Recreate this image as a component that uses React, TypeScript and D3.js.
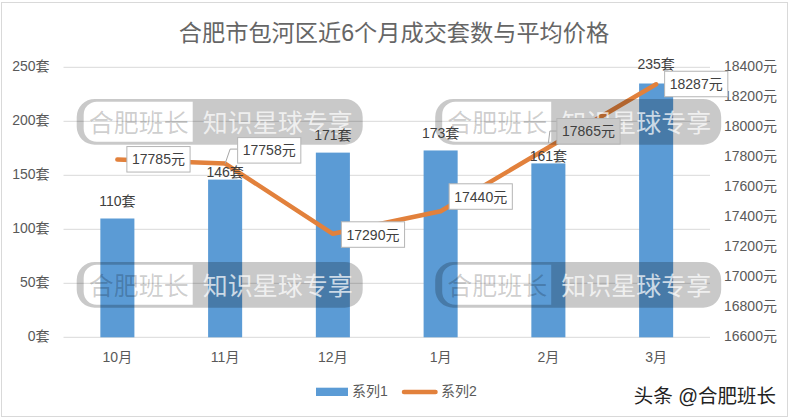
import React from "react";
import * as d3 from "d3";

const months = ["10月", "11月", "12月", "1月", "2月", "3月"];
const deals = [110, 146, 171, 173, 161, 235];
const prices = [17785, 17758, 17290, 17440, 17865, 18287];
const leftTicks = [0, 50, 100, 150, 200, 250];
const rightTicks = [16600, 16800, 17000, 17200, 17400, 17600, 17800, 18000, 18200, 18400];
const seriesNames = ["系列1", "系列2"];
const title = "合肥市包河区近6个月成交套数与平均价格";
const markLeft = "合肥班长";
const markRight = "知识星球专享";
const credit = "头条 @合肥班长";

const W = 789, H = 419;
const plot = { left: 63.5, right: 710, top: 67.3, bottom: 337.3 };
const FONT = "'Liberation Sans','Noto Sans CJK SC',sans-serif";
const GRID = "#d9d9d9";
const AXIS_TEXT = "#595959";
const DATA_TEXT = "#404040";
const BAR = "#5b9bd5";
const LINE = "#e2813c";
const LABEL_SIZE = 14;

// label layout, relative to each data point
const barLabelLift = [18, 7.5, 18, 18, 7.5, 19.5];
const boxOffset: [number, number][] = [
  [9.5, -13], [12.5, -26], [8.5, -12], [8.5, -27.5], [8.5, -29], [8.5, -13],
];
const boxFill = ["#fff", "#fff", "#fff", "#fff", "#c9c9c9", "#fff"];
const BOX_W = 63.2, BOX_H = 25.5;
const leaders: Record<number, [number, number][]> = {
  1: [[0, 0], [5, -14.5], [12.5, -14.5]],
  4: [[0, -4.5], [1.5, -16.5], [8.5, -16.5]],
};
const marks: [number, number][] = [[76.7, 99], [435.2, 99], [76.7, 262], [435.2, 262]];

function Watermark({ x, y }: { x: number; y: number }) {
  const w = 286, h = 45.7, r = 18;
  const iL = 7, iR = 116, iT = 2.7, iB = 42.7, ir = 13;
  const outer = `M${x + r},${y}H${x + w - r}A${r},${r} 0 0 1 ${x + w},${y + r}V${y + h - r}A${r},${r} 0 0 1 ${x + w - r},${y + h}H${x + r}A${r},${r} 0 0 1 ${x},${y + h - r}V${y + r}A${r},${r} 0 0 1 ${x + r},${y}Z`;
  const inner = `M${x + iL + ir},${y + iT}H${x + iR}V${y + iB}H${x + iL + ir}A${ir},${ir} 0 0 1 ${x + iL},${y + iB - ir}V${y + iT + ir}A${ir},${ir} 0 0 1 ${x + iL + ir},${y + iT}Z`;
  return (
    <g style={{ fontFamily: FONT, fontSize: 25 }}>
      <path d={outer + inner} fill="#000" fillOpacity={0.21} fillRule="evenodd" />
      <text x={x + 12} y={y + 33} fill="#000" fillOpacity={0.2}>{markLeft}</text>
      <text x={x + 126} y={y + 33} fill="#fff" fillOpacity={0.72}>{markRight}</text>
    </g>
  );
}

export default function App() {
  const x = d3.scaleBand<string>().domain(months).range([plot.left, plot.right]).paddingInner(0.684).paddingOuter(0.342);
  const yL = d3.scaleLinear().domain([0, 250]).range([plot.bottom, plot.top]);
  const yR = d3.scaleLinear().domain([16600, 18400]).range([plot.bottom, plot.top]);
  const cx = (m: string) => (x(m) as number) + x.bandwidth() / 2;
  const line = d3.line<number>().x((_, i) => cx(months[i])).y((d) => yR(d));

  return (
    <svg width={W} height={H} style={{ position: "absolute", left: 0, top: 0, background: "#fff" }} fontFamily={FONT}>
      <rect x={1.5} y={2.5} width={W - 3} height={H - 5} fill="#fff" stroke={GRID} strokeWidth={1} />
      <text x={394} y={41} textAnchor="middle" fontSize={23.2} fill="#666">{title}</text>

      {leftTicks.map((t) => (
        <g key={t}>
          <line x1={plot.left} x2={plot.right} y1={yL(t)} y2={yL(t)} stroke={GRID} strokeWidth={1} />
          <text x={49.5} y={yL(t) - 1.5} dy="0.36em" textAnchor="end" fontSize={LABEL_SIZE} fill={AXIS_TEXT}>{t}套</text>
        </g>
      ))}
      {rightTicks.map((t) => (
        <text key={t} x={724} y={yR(t) - 1.5} dy="0.36em" fontSize={LABEL_SIZE} fill={AXIS_TEXT}>{t}元</text>
      ))}
      {months.map((m) => (
        <text key={m} x={cx(m)} y={356.7} dy="0.36em" textAnchor="middle" fontSize={LABEL_SIZE} fill={AXIS_TEXT}>{m}</text>
      ))}

      {deals.map((d, i) => (
        <rect key={i} x={x(months[i])} y={yL(d)} width={x.bandwidth()} height={plot.bottom - yL(d)} fill={BAR} />
      ))}
      <path d={line(prices) as string} fill="none" stroke={LINE} strokeWidth={4.5} strokeLinecap="round" strokeLinejoin="round" />

      <rect x={316} y={387.7} width={32} height={8.3} fill={BAR} />
      <text x={352} y={391} dy="0.36em" fontSize={LABEL_SIZE} fill={AXIS_TEXT}>{seriesNames[0]}</text>
      <line x1={404} x2={435.5} y1={392} y2={392} stroke={LINE} strokeWidth={4.5} strokeLinecap="round" />
      <text x={441} y={391} dy="0.36em" fontSize={LABEL_SIZE} fill={AXIS_TEXT}>{seriesNames[1]}</text>

      {marks.map(([a, b], i) => <Watermark key={i} x={a} y={b} />)}

      {deals.map((d, i) => (
        <text key={i} x={cx(months[i])} y={yL(d) - barLabelLift[i]} dy="0.36em" textAnchor="middle" fontSize={LABEL_SIZE} fill={DATA_TEXT}>{d}套</text>
      ))}

      {prices.map((p, i) => {
        const px = cx(months[i]), py = yR(p);
        const [ox, oy] = boxOffset[i];
        const pts = leaders[i];
        return (
          <g key={i}>
            {pts && (
              <polyline points={pts.map(([a, b]) => `${px + a},${py + b}`).join(" ")} fill="none" stroke="#a6a6a6" strokeWidth={1} />
            )}
            <rect x={px + ox} y={py + oy} width={BOX_W} height={BOX_H} fill={boxFill[i]} stroke="#b5b5b5" strokeWidth={1} />
            <text x={px + ox + BOX_W / 2} y={py + oy + BOX_H / 2} dy="0.36em" textAnchor="middle" fontSize={LABEL_SIZE} fill={DATA_TEXT}>{p}元</text>
          </g>
        );
      })}

      <text x={776} y={403} textAnchor="end" fontSize={19.5} fill="#222" stroke="#fff" strokeWidth={0.5} paintOrder="stroke">{credit}</text>
    </svg>
  );
}
